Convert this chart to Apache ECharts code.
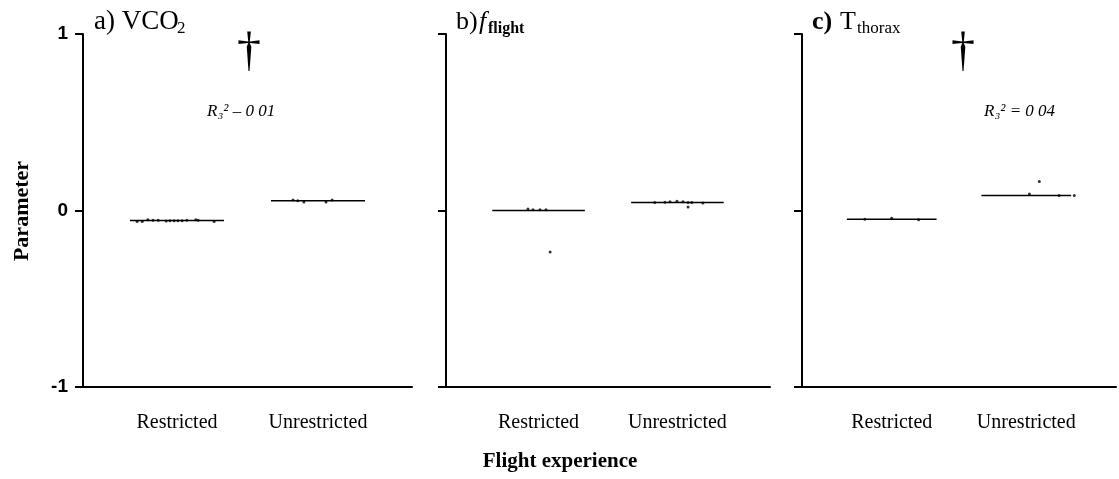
<!DOCTYPE html>
<html><head><meta charset="utf-8">
<script src="https://cdn.jsdelivr.net/npm/echarts@6/dist/echarts.min.js"></script>
<style>html,body{margin:0;padding:0;background:#fff}#c{width:1119px;height:479px}</style>
</head><body><div id="c"></div>
<script>
// ---- data ----
const categories = ['Restricted', 'Unrestricted'];
const categoryPos = [2, 5];          // x positions of the two groups on a 0..7 scale
const yTicks = [-1, 0, 1];
const xAxisTitle = 'Flight experience';
const yAxisTitle = 'Parameter';

const meansA = [-0.057, 0.055];
const meansB = [0.0, 0.045];
const meansC = [-0.05, 0.085];

const pointsA = [[1.15,-0.062],[1.26,-0.063],[1.38,-0.052],[1.49,-0.055],[1.6,-0.055],[1.77,-0.06],[1.85,-0.058],[1.94,-0.058],[2.02,-0.058],[2.11,-0.058],[2.21,-0.055],[2.4,-0.053],[2.45,-0.055],[2.79,-0.062],
                 [4.47,0.06],[4.57,0.055],[4.7,0.048],[5.17,0.048],[5.3,0.06]];
const pointsB = [[1.77,0.008],[1.88,0.004],[2.03,0.004],[2.16,0.004],[2.25,-0.235],
                 [4.51,0.045],[4.73,0.047],[4.84,0.05],[4.99,0.052],[5.12,0.05],[5.23,0.045],[5.31,0.045],[5.55,0.043],[5.23,0.02]];
const pointsC = [[1.4,-0.05],[2.0,-0.044],[2.6,-0.053],
                 [5.07,0.093],[5.73,0.085],[6.07,0.085],[5.29,0.165]];

const annotA = 'R₃² – 0 01';
const annotC = 'R₃² = 0 04';

// ---- chart ----
const chart = echarts.init(document.getElementById('c'));
const grids = [
  {left: 83, top: 34, width: 329, height: 353},
  {left: 446, top: 34, width: 324, height: 353},
  {left: 802, top: 34, width: 317, height: 353}
];
const black = '#000';
function xAxis(i){
  return {type:'value', gridIndex:i, min:0, max:7, interval:1,
    axisLine:{show:true, onZero:false, lineStyle:{color:black, width:2}},
    axisTick:{show:false}, splitLine:{show:false},
    axisLabel:{margin:26, color:black, fontFamily:'Liberation Serif', fontSize:20,
      showMinLabel:true, showMaxLabel:true,
      formatter:v=>{const k=categoryPos.indexOf(v); return k>=0?categories[k]:'';}}};
}
function yAxis(i){
  return {type:'value', gridIndex:i, min:yTicks[0], max:yTicks[yTicks.length-1], interval:1,
    axisLine:{show:true, lineStyle:{color:black, width:2}},
    axisTick:{show:true, length:8, lineStyle:{color:black, width:2}},
    splitLine:{show:false},
    axisLabel:{show:i===0, margin:15, color:black, fontFamily:'Liberation Sans', fontSize:19, fontWeight:'bold'}};
}
const allMeans = [meansA, meansB, meansC];
const allPoints = [pointsA, pointsB, pointsC];
const series = [];
allMeans.forEach((m, i) => {
  m.forEach((v, k) => {
    series.push({type:'line', xAxisIndex:i, yAxisIndex:i, symbol:'none', silent:true,
      lineStyle:{color:black, width:1.5},
      data:[[categoryPos[k]-1, v],[categoryPos[k]+1, v]]});
  });
  series.push({type:'scatter', xAxisIndex:i, yAxisIndex:i, symbolSize:3,
    itemStyle:{color:black}, data:allPoints[i]});
});

function txt(x, y, text, font, extra){
  return Object.assign({type:'text', x:x, y:y, style:Object.assign({text:text, font:font, fill:black,
    textAlign:'left', textVerticalAlign:'middle'}, extra||{})});
}
const serif = '"Liberation Serif", "DejaVu Serif", serif';
const graphic = [
  // panel titles
  txt(94, 22, 'a) VCO', '27px ' + serif),
  txt(177, 29, '2', '17px ' + serif),
  txt(456, 22, 'b)', '26px ' + serif),
  txt(479, 22, 'f', 'italic 26px ' + serif),
  txt(488, 29, 'flight', 'bold 16px ' + serif),
  txt(812, 22, 'c)', 'bold 26px ' + serif),
  txt(840, 22, 'T', '26px ' + serif),
  txt(857, 29, 'thorax', '17px ' + serif),
  // significance markers
  txt(249, 52, '†', '48px ' + serif, {textAlign:'center'}),
  txt(963, 52, '†', '48px ' + serif, {textAlign:'center'}),
  txt(207, 112, annotA, 'italic 17px ' + serif),
  txt(984, 112, annotC, 'italic 17px ' + serif),
  // axis titles
  {type:'text', x:22, y:211, rotation:Math.PI/2,
    style:{text:yAxisTitle, font:'bold 22px ' + serif, fill:black, textAlign:'center', textVerticalAlign:'middle'}},
  txt(560, 462, xAxisTitle, 'bold 21px ' + serif, {textAlign:'center'})
];

chart.setOption({
  backgroundColor:'#fff',
  animation:false,
  grid:grids,
  xAxis:[0,1,2].map(xAxis),
  yAxis:[0,1,2].map(yAxis),
  series:series,
  graphic:graphic
});
</script></body></html>
